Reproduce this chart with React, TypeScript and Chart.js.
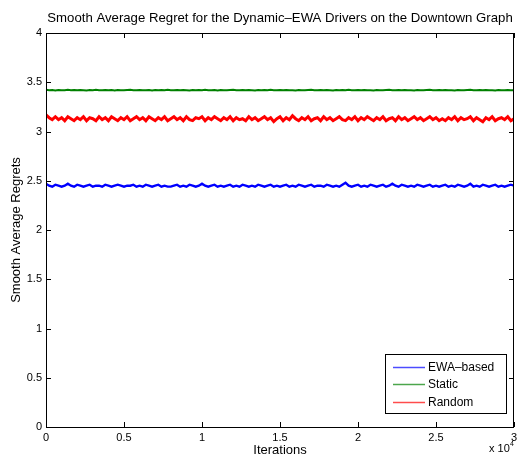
import React, { useEffect, useRef } from "react";
import { Chart, registerables } from "chart.js";

Chart.register(...registerables);

const TITLE = "Smooth Average Regret for the Dynamic\u2013EWA Drivers on the Downtown Graph";
const X_LABEL = "Iterations";
const Y_LABEL = "Smooth Average Regrets";
const X_MULTIPLIER_BASE = "x 10";
const X_MULTIPLIER_EXP = "4";
const SERIES_NAMES = ["EWA\u2013based", "Static", "Random"];
const SERIES_COLORS = ["#0000ff", "#008000", "#ff0000"];
const ITER_STEP = 200;
const X_MIN = 0;
const X_MAX = 30000;
const X_TICK_STEP = 5000;
const Y_MIN = 0;
const Y_MAX = 4;
const Y_TICK_STEP = 0.5;

const ewaBased = [
  2.47, 2.45, 2.44, 2.46, 2.45, 2.44, 2.45, 2.47, 2.45, 2.44,
  2.46, 2.45, 2.44, 2.45, 2.46, 2.44, 2.45, 2.45, 2.44, 2.46,
  2.45, 2.44, 2.45, 2.46, 2.45, 2.44, 2.45, 2.45, 2.46, 2.44,
  2.45, 2.44, 2.46, 2.45, 2.44, 2.45, 2.46, 2.44, 2.45, 2.44,
  2.44, 2.45, 2.46, 2.44, 2.45, 2.44, 2.46, 2.45, 2.44, 2.45,
  2.47, 2.45, 2.44, 2.45, 2.46, 2.44, 2.45, 2.44, 2.45, 2.46,
  2.44, 2.45, 2.44, 2.46, 2.45, 2.44, 2.45, 2.44, 2.46, 2.45,
  2.44, 2.45, 2.46, 2.44, 2.45, 2.44, 2.45, 2.46, 2.44, 2.45,
  2.44, 2.46, 2.45, 2.44, 2.45, 2.46, 2.44, 2.45, 2.45, 2.44,
  2.46, 2.45, 2.44, 2.45, 2.44, 2.46, 2.48, 2.45, 2.44, 2.45,
  2.46, 2.44, 2.45, 2.44, 2.46, 2.45, 2.44, 2.45, 2.46, 2.44,
  2.45, 2.47, 2.45, 2.44, 2.46, 2.45, 2.44, 2.45, 2.44, 2.46,
  2.45, 2.44, 2.45, 2.46, 2.44, 2.45, 2.44, 2.45, 2.46, 2.44,
  2.45, 2.44, 2.46, 2.45, 2.44, 2.45, 2.47, 2.44, 2.45, 2.44,
  2.46, 2.45, 2.44, 2.45, 2.46, 2.44, 2.45, 2.44, 2.45, 2.46,
  2.45,
];

const staticRegret = [
  3.423, 3.419, 3.421, 3.417, 3.422, 3.420, 3.418, 3.423, 3.419, 3.421,
  3.418, 3.422, 3.420, 3.417, 3.421, 3.419, 3.423, 3.418, 3.420, 3.422,
  3.419, 3.421, 3.417, 3.422, 3.420, 3.418, 3.421, 3.423, 3.419, 3.420,
  3.422, 3.418, 3.420, 3.421, 3.417, 3.422, 3.419, 3.421, 3.418, 3.423,
  3.420, 3.419, 3.422, 3.418, 3.421, 3.420, 3.417, 3.422, 3.419, 3.421,
  3.418, 3.423, 3.420, 3.419, 3.421, 3.417, 3.422, 3.420, 3.418, 3.421,
  3.423, 3.419, 3.420, 3.422, 3.418, 3.421, 3.419, 3.417, 3.422, 3.420,
  3.421, 3.418, 3.423, 3.419, 3.420, 3.422, 3.418, 3.421, 3.419, 3.420,
  3.417, 3.422, 3.420, 3.418, 3.421, 3.423, 3.419, 3.420, 3.422, 3.418,
  3.421, 3.419, 3.417, 3.422, 3.420, 3.421, 3.418, 3.423, 3.419, 3.420,
  3.422, 3.418, 3.421, 3.419, 3.420, 3.417, 3.422, 3.420, 3.418, 3.421,
  3.423, 3.419, 3.420, 3.422, 3.418, 3.421, 3.419, 3.420, 3.417, 3.422,
  3.420, 3.418, 3.421, 3.423, 3.419, 3.420, 3.422, 3.418, 3.421, 3.419,
  3.420, 3.417, 3.422, 3.420, 3.418, 3.421, 3.423, 3.419, 3.420, 3.422,
  3.418, 3.421, 3.419, 3.420, 3.417, 3.422, 3.420, 3.418, 3.421, 3.419,
  3.420,
];

const randomRegret = [
  3.17, 3.14, 3.12, 3.15, 3.12, 3.14, 3.11, 3.15, 3.13, 3.11,
  3.14, 3.12, 3.15, 3.11, 3.14, 3.13, 3.11, 3.15, 3.12, 3.14,
  3.11, 3.15, 3.13, 3.11, 3.14, 3.12, 3.15, 3.11, 3.13, 3.15,
  3.12, 3.14, 3.11, 3.15, 3.13, 3.11, 3.14, 3.12, 3.15, 3.11,
  3.13, 3.15, 3.12, 3.14, 3.11, 3.15, 3.12, 3.11, 3.14, 3.13,
  3.15, 3.11, 3.14, 3.12, 3.15, 3.13, 3.11, 3.14, 3.12, 3.15,
  3.11, 3.14, 3.12, 3.13, 3.11, 3.15, 3.12, 3.14, 3.11, 3.13,
  3.15, 3.12, 3.14, 3.10, 3.13, 3.15, 3.11, 3.14, 3.12, 3.16,
  3.13, 3.11, 3.14, 3.12, 3.15, 3.11, 3.13, 3.14, 3.11, 3.15,
  3.12, 3.14, 3.11, 3.13, 3.15, 3.12, 3.11, 3.14, 3.12, 3.15,
  3.11, 3.14, 3.12, 3.15, 3.13, 3.11, 3.14, 3.12, 3.15, 3.11,
  3.13, 3.14, 3.11, 3.15, 3.12, 3.14, 3.11, 3.13, 3.15, 3.12,
  3.14, 3.11, 3.13, 3.15, 3.12, 3.14, 3.11, 3.13, 3.11, 3.14,
  3.12, 3.15, 3.11, 3.14, 3.12, 3.13, 3.15, 3.11, 3.14, 3.12,
  3.10, 3.14, 3.12, 3.15, 3.11, 3.13, 3.14, 3.12, 3.15, 3.11,
  3.13,
];

const SERIES = [ewaBased, staticRegret, randomRegret];
const SERIES_WIDTHS = [2.4, 2, 3];
const FONT = "'Liberation Sans', Arial, Helvetica, sans-serif";

const framePlugin = {
  id: "matlabFrame",
  afterDraw(chart: any) {
    const { ctx, chartArea } = chart;
    const { left, right, top, bottom } = chartArea;
    const xs = chart.scales.x;
    const ys = chart.scales.y;
    ctx.save();
    ctx.strokeStyle = "#000";
    ctx.lineWidth = 1;
    ctx.strokeRect(Math.round(left) + 0.5, Math.round(top) + 0.5, Math.round(right - left) - 1, Math.round(bottom - top));
    const tl = 5;
    ctx.beginPath();
    xs.ticks.forEach((t: any) => {
      const px = Math.round(xs.getPixelForValue(t.value)) + 0.5;
      ctx.moveTo(px, bottom);
      ctx.lineTo(px, bottom - tl);
      ctx.moveTo(px, top);
      ctx.lineTo(px, top + tl);
    });
    ys.ticks.forEach((t: any) => {
      const py = Math.round(ys.getPixelForValue(t.value)) + 0.5;
      ctx.moveTo(left, py);
      ctx.lineTo(left + tl, py);
      ctx.moveTo(right, py);
      ctx.lineTo(right - tl, py);
    });
    ctx.stroke();

    ctx.fillStyle = "#000";
    ctx.font = `13.2px ${FONT}`;
    ctx.textAlign = "center";
    ctx.textBaseline = "middle";
    ctx.fillText(TITLE, (left + right) / 2, 18);
    ctx.font = `13px ${FONT}`;
    ctx.fillText(X_LABEL, (left + right) / 2, 450);
    ctx.save();
    ctx.translate(16, (top + bottom) / 2);
    ctx.rotate(-Math.PI / 2);
    ctx.fillText(Y_LABEL, 0, 0);
    ctx.restore();
    ctx.font = `11px ${FONT}`;
    ctx.textAlign = "left";
    ctx.fillText(X_MULTIPLIER_BASE, 489, 449);
    ctx.font = `7px ${FONT}`;
    ctx.fillText(X_MULTIPLIER_EXP, 510, 444);

    const lx0 = 385.5, ly0 = 354.5, lx1 = 506.5, ly1 = 413.5;
    ctx.fillStyle = "#fff";
    ctx.fillRect(lx0, ly0, lx1 - lx0, ly1 - ly0);
    ctx.strokeStyle = "#000";
    ctx.lineWidth = 1;
    ctx.strokeRect(lx0, ly0, lx1 - lx0, ly1 - ly0);
    const rowY = [367, 384, 402];
    ctx.font = `12px ${FONT}`;
    ctx.textBaseline = "middle";
    SERIES_NAMES.forEach((name, i) => {
      ctx.strokeStyle = SERIES_COLORS[i];
      ctx.globalAlpha = 0.7;
      ctx.lineWidth = 1.5;
      ctx.beginPath();
      ctx.moveTo(393, rowY[i] + 0.5);
      ctx.lineTo(425, rowY[i] + 0.5);
      ctx.stroke();
      ctx.globalAlpha = 1;
      ctx.fillStyle = "#000";
      ctx.fillText(name, 428, rowY[i] + 0.5);
    });
    ctx.restore();
  },
};

export default function App() {
  const canvasRef = useRef<HTMLCanvasElement | null>(null);

  useEffect(() => {
    const canvas = canvasRef.current;
    if (!canvas) return;
    const chart = new Chart(canvas, {
      type: "line",
      data: {
        datasets: SERIES.map((vals, i) => ({
          label: SERIES_NAMES[i],
          data: vals.map((v, k) => ({ x: k * ITER_STEP, y: v })),
          borderColor: SERIES_COLORS[i],
          backgroundColor: SERIES_COLORS[i],
          borderWidth: SERIES_WIDTHS[i],
          pointRadius: 0,
          tension: 0,
          fill: false,
        })),
      },
      options: {
        animation: false,
        responsive: true,
        maintainAspectRatio: false,
        layout: { padding: { top: 33, right: 4, left: 0, bottom: 0 } },
        plugins: {
          legend: { display: false },
          title: { display: false },
          tooltip: { enabled: false },
        },
        scales: {
          x: {
            type: "linear",
            min: X_MIN,
            max: X_MAX,
            grid: { display: false, drawTicks: false },
            border: { display: false },
            afterFit: (s: any) => {
              s.height = 33;
              s.paddingLeft = 0;
              s.paddingRight = 0;
            },
            ticks: {
              stepSize: X_TICK_STEP,
              padding: 4,
              maxRotation: 0,
              autoSkip: false,
              color: "#000",
              font: { family: FONT, size: 11 },
              callback: (v: any) => String(Number(v) / 10000),
            },
          },
          y: {
            type: "linear",
            min: Y_MIN,
            max: Y_MAX,
            grid: { display: false, drawTicks: false },
            border: { display: false },
            afterFit: (s: any) => {
              s.width = 46;
              s.paddingTop = 0;
              s.paddingBottom = 0;
            },
            ticks: {
              stepSize: Y_TICK_STEP,
              padding: 4,
              autoSkip: false,
              color: "#000",
              font: { family: FONT, size: 11 },
              callback: (v: any) => String(v),
            },
          },
        },
      },
      plugins: [framePlugin],
    });
    return () => chart.destroy();
  }, []);

  return (
    <div style={{ position: "fixed", left: 0, top: 0, width: 518, height: 460, background: "#fff" }}>
      <canvas ref={canvasRef} />
    </div>
  );
}
